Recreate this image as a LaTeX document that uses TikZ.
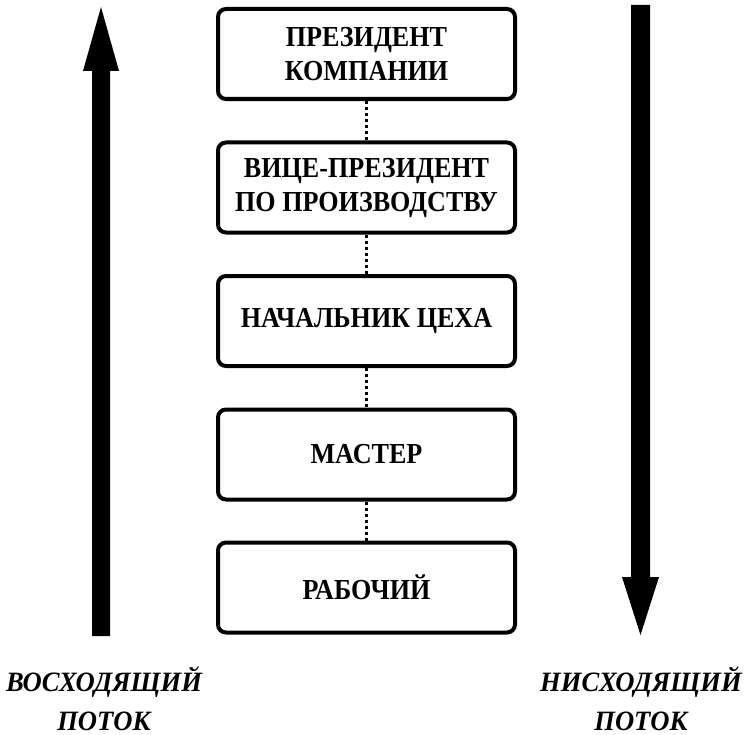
\documentclass[tikz,border=0pt]{standalone}
\usepackage{fontspec}
\setmainfont{Liberation Serif}
\newfontfamily\postfont[FakeStretch=0.9]{Liberation Serif}
\newfontfamily\flowfont[FakeStretch=0.95]{Liberation Serif}
\begin{document}
\begin{tikzpicture}[x=1bp,y=-1bp,
  post/.style={draw=black, line width=4bp, rounded corners=8bp, fill=white,
    minimum width=297bp, minimum height=90bp, align=center, inner sep=0pt,
    font=\postfont\fontsize{29bp}{34bp}\selectfont\bfseries},
  link/.style={line width=3bp, dash pattern=on 3bp off 3bp},
  flow/.style={fill=black},
  flowlabel/.style={align=center, inner sep=0pt, anchor=base,
    font=\flowfont\fontsize{28bp}{39bp}\selectfont\bfseries\itshape}]
  \useasboundingbox (0,0) rectangle (745,735);

  % chain of posts
  \node[post] (p1) at (366.5,54)  {ПРЕЗИДЕНТ\\КОМПАНИИ};
  \node[post] (p2) at (366.5,187.5) {ВИЦЕ-ПРЕЗИДЕНТ\\ПО ПРОИЗВОДСТВУ};
  \node[post] (p3) at (366.5,321) {НАЧАЛЬНИК ЦЕХА};
  \node[post] (p4) at (366.5,454.5) {МАСТЕР};
  \node[post] (p5) at (366.5,587.5) {РАБОЧИЙ};

  \draw[link] (p1.south) -- (p2.north);
  \draw[link] (p2.south) -- (p3.north);
  \draw[link] (p3.south) -- (p4.north);
  \draw[link] (p4.south) -- (p5.north);

  % upward flow arrow
  \fill[flow] (92,636) -- (92,71) -- (83,71) -- (101,7) -- (119,71) -- (110,71) -- (110,636) -- cycle;
  % downward flow arrow
  \fill[flow] (631,5) -- (631,577) -- (622,577) -- (640.5,635) -- (659,577) -- (650,577) -- (650,5) -- cycle;

  % the base anchor sits on the last line
  \node[flowlabel] (up) at (104,730) {ВОСХОДЯЩИЙ\\ПОТОК};
  \node[flowlabel] (down) at (641,730) {НИСХОДЯЩИЙ\\ПОТОК};
\end{tikzpicture}
\end{document}
